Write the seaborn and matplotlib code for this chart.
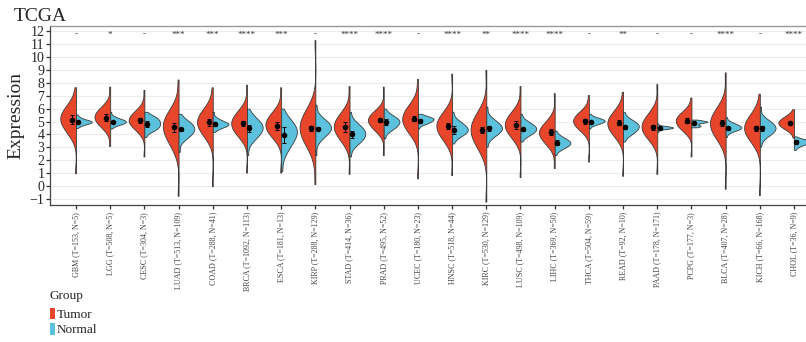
import numpy as np
import pandas as pd
import matplotlib
matplotlib.use("Agg")
import matplotlib.pyplot as plt
import seaborn as sns
from matplotlib.patches import Patch

# --- data ---
cancers = ["GBM", "LGG", "CESC", "LUAD", "COAD", "BRCA", "ESCA", "KIRP", "STAD", "PRAD", "UCEC",
           "HNSC", "KIRC", "LUSC", "LIHC", "THCA", "READ", "PAAD", "PCPG", "BLCA", "KICH", "CHOL"]
tumor_n = [153, 508, 304, 513, 288, 1092, 181, 288, 414, 495, 180, 518, 530, 498, 369, 504, 92, 178, 177, 407, 66, 36]
normal_n = [5, 5, 3, 109, 41, 113, 13, 129, 36, 52, 23, 44, 129, 109, 50, 59, 10, 171, 3, 28, 168, 9]
signif = ["-", "*", "-", "***", "***", "****", "***", "-", "****", "****", "-",
          "****", "**", "****", "****", "-", "**", "-", "-", "****", "-", "****"]

# approximate quantiles (min, q10, q25, median, q75, q90, max) per cancer
tumor_q = [
    [1.0, 3.9, 4.6, 5.2, 5.8, 6.4, 7.65],
    [3.1, 4.4, 4.9, 5.35, 5.8, 6.3, 7.7],
    [2.3, 4.2, 4.7, 5.1, 5.5, 6.0, 7.45],
    [-0.75, 2.9, 3.8, 4.6, 5.3, 6.0, 8.25],
    [0.0, 3.7, 4.35, 4.95, 5.5, 6.1, 7.65],
    [1.05, 3.8, 4.3, 4.85, 5.4, 5.9, 7.85],
    [1.05, 3.7, 4.2, 4.75, 5.3, 5.85, 7.65],
    [0.15, 2.9, 3.8, 4.5, 5.3, 6.0, 11.3],
    [0.95, 3.3, 4.0, 4.6, 5.2, 5.8, 7.75],
    [2.4, 4.2, 4.65, 5.1, 5.5, 5.9, 7.7],
    [0.6, 4.0, 4.6, 5.2, 5.8, 6.4, 8.3],
    [0.85, 3.4, 4.05, 4.65, 5.25, 5.8, 8.7],
    [-1.2, 2.8, 3.6, 4.35, 5.1, 5.8, 9.0],
    [0.7, 3.6, 4.2, 4.75, 5.3, 5.85, 7.75],
    [1.4, 3.1, 3.65, 4.15, 4.6, 5.2, 7.2],
    [1.9, 4.25, 4.65, 5.05, 5.45, 5.85, 7.05],
    [0.8, 3.7, 4.3, 4.85, 5.4, 5.95, 7.3],
    [0.95, 3.5, 4.1, 4.6, 5.2, 5.8, 7.9],
    [2.3, 4.2, 4.6, 5.05, 5.45, 5.85, 6.85],
    [-0.2, 3.5, 4.2, 4.85, 5.5, 6.2, 8.8],
    [-0.7, 3.3, 3.95, 4.5, 5.1, 5.7, 7.15],
    [3.75, 4.3, 4.6, 4.9, 5.2, 5.5, 5.95],
]
normal_q = [
    [4.5, 4.7, 4.85, 4.98, 5.1, 5.3, 5.55],
    [4.45, 4.7, 4.85, 5.0, 5.15, 5.35, 5.75],
    [3.8, 4.3, 4.5, 4.85, 5.2, 5.4, 5.75],
    [2.65, 3.6, 4.0, 4.4, 4.8, 5.1, 5.6],
    [4.2, 4.45, 4.65, 4.8, 5.0, 5.25, 5.75],
    [2.4, 3.5, 4.0, 4.5, 4.95, 5.4, 6.0],
    [1.15, 2.6, 3.4, 4.1, 4.7, 5.2, 6.0],
    [2.4, 3.6, 4.1, 4.5, 4.9, 5.3, 6.3],
    [2.3, 3.2, 3.6, 4.05, 4.5, 4.9, 5.75],
    [3.7, 4.3, 4.6, 4.95, 5.25, 5.55, 6.0],
    [4.45, 4.8, 4.95, 5.15, 5.3, 5.45, 5.6],
    [3.3, 3.8, 4.1, 4.4, 4.75, 5.1, 5.75],
    [3.05, 3.8, 4.15, 4.5, 4.85, 5.25, 6.15],
    [3.45, 3.9, 4.15, 4.45, 4.75, 5.05, 5.6],
    [2.4, 2.85, 3.1, 3.35, 3.6, 3.9, 4.3],
    [4.45, 4.75, 4.9, 5.05, 5.2, 5.35, 5.6],
    [3.45, 3.95, 4.25, 4.6, 4.9, 5.2, 5.75],
    [4.2, 4.4, 4.47, 4.53, 4.6, 4.66, 4.85],
    [4.55, 4.62, 4.68, 4.95, 5.0, 5.05, 5.15],
    [3.8, 4.2, 4.4, 4.55, 4.75, 4.95, 5.35],
    [3.05, 3.8, 4.15, 4.5, 4.85, 5.2, 6.15],
    [2.8, 3.05, 3.25, 3.4, 3.55, 3.65, 3.85],
]
q_weights = [1, 3, 6, 8, 6, 3, 1]

tumor_mean = [5.12, 5.31, 5.1, 4.54, 4.93, 4.85, 4.67, 4.46, 4.59, 5.08, 5.21,
              4.64, 4.33, 4.72, 4.2, 5.03, 4.9, 4.54, 5.06, 4.9, 4.46, 4.9]
tumor_err = [0.35, 0.27, 0.2, 0.33, 0.25, 0.18, 0.3, 0.2, 0.38, 0.15, 0.2,
             0.25, 0.22, 0.3, 0.25, 0.2, 0.18, 0.18, 0.2, 0.22, 0.22, 0.1]
normal_mean = [4.95, 4.93, 4.8, 4.39, 4.77, 4.46, 3.97, 4.44, 4.02, 4.98, 5.03,
               4.33, 4.46, 4.39, 3.35, 4.98, 4.54, 4.51, 4.9, 4.46, 4.46, 3.43]
normal_err = [0.08, 0.08, 0.25, 0.1, 0.12, 0.3, 0.62, 0.12, 0.28, 0.25, 0.15,
              0.3, 0.22, 0.1, 0.2, 0.08, 0.1, 0.05, 0.08, 0.1, 0.2, 0.15]

TUMOR = "#E8462A"
NORMAL = "#5BC1DC"

labels = [f"{c} (T={t}, N={n})" for c, t, n in zip(cancers, tumor_n, normal_n)]

rows = []
for lab, tq, nq in zip(labels, tumor_q, normal_q):
    for grp, qs in (("Tumor", tq), ("Normal", nq)):
        for v, w in zip(qs, q_weights):
            rows += [{"Cancer": lab, "Group": grp, "Expression": v}] * w
df = pd.DataFrame(rows)

sns.set_theme(style="white")
plt.rcParams["font.family"] = ["Liberation Serif", "DejaVu Serif"]
plt.rcParams["axes.unicode_minus"] = True

fig = plt.figure(figsize=(8.06, 3.42), dpi=100)
ax = fig.add_axes([50 / 806, 1 - 205 / 342, 756 / 806, 179 / 342])

sns.violinplot(
    data=df, x="Cancer", y="Expression", hue="Group",
    order=labels, hue_order=["Tumor", "Normal"],
    split=True, inner=None, cut=0, density_norm="width", width=0.92,
    palette={"Tumor": TUMOR, "Normal": NORMAL}, saturation=1,
    linewidth=0.6, linecolor="#3a3a3a", bw_adjust=1.1, legend=False, ax=ax,
)

xs = np.arange(len(cancers))
ax.errorbar(xs - 0.12, tumor_mean, yerr=tumor_err, fmt="o", ms=3, color="black",
            elinewidth=0.7, capsize=1.6, capthick=0.7, zorder=5)
ax.errorbar(xs + 0.07, normal_mean, yerr=normal_err, fmt="o", ms=3, color="black",
            elinewidth=0.7, capsize=1.6, capthick=0.7, zorder=5)

for x, s in zip(xs, signif):
    ax.text(x, 11.72, s, ha="center", va="center", fontsize=6.5, color="#333333")

ax.set_xlim(-0.76, 21.35)
ax.set_ylim(-1.46, 12.39)
ax.set_yticks(range(-1, 13))
ax.yaxis.grid(True, color="#ECECEC", linewidth=0.8)
ax.xaxis.grid(False)
ax.set_axisbelow(True)

ax.set_xlabel("")
ax.set_ylabel("Expression", fontsize=14, labelpad=4)
ax.tick_params(axis="y", length=3, width=0.9, color="#333333", labelsize=10, pad=1, left=True)
ax.tick_params(axis="x", length=3, width=0.9, color="#333333", labelsize=5.8, pad=2,
               rotation=90, bottom=True)
for lbl in ax.get_xticklabels():
    lbl.set_color("#444444")

for side in ("left", "bottom"):
    ax.spines[side].set_color("#444444")
    ax.spines[side].set_linewidth(0.9)
ax.spines["top"].set_color("#999999")
ax.spines["top"].set_linewidth(1.0)
ax.spines["right"].set_visible(False)

fig.text(14 / 806, 1 - 21 / 342, "TCGA", fontsize=14, va="baseline", ha="left")

handles = [Patch(facecolor=TUMOR, edgecolor="none"), Patch(facecolor=NORMAL, edgecolor="none")]
leg = fig.legend(handles, ["Tumor", "Normal"], title="Group", loc="upper left",
                 bbox_to_anchor=(50 / 806, 1 - 290 / 342), frameon=False, fontsize=9.5,
                 title_fontsize=9.5, alignment="left", handlelength=0.35, handleheight=1.0,
                 handletextpad=0.15, labelspacing=0.15, borderaxespad=0, borderpad=0)
leg._legend_box.sep = 4

fig.savefig("out.png", dpi=100)
